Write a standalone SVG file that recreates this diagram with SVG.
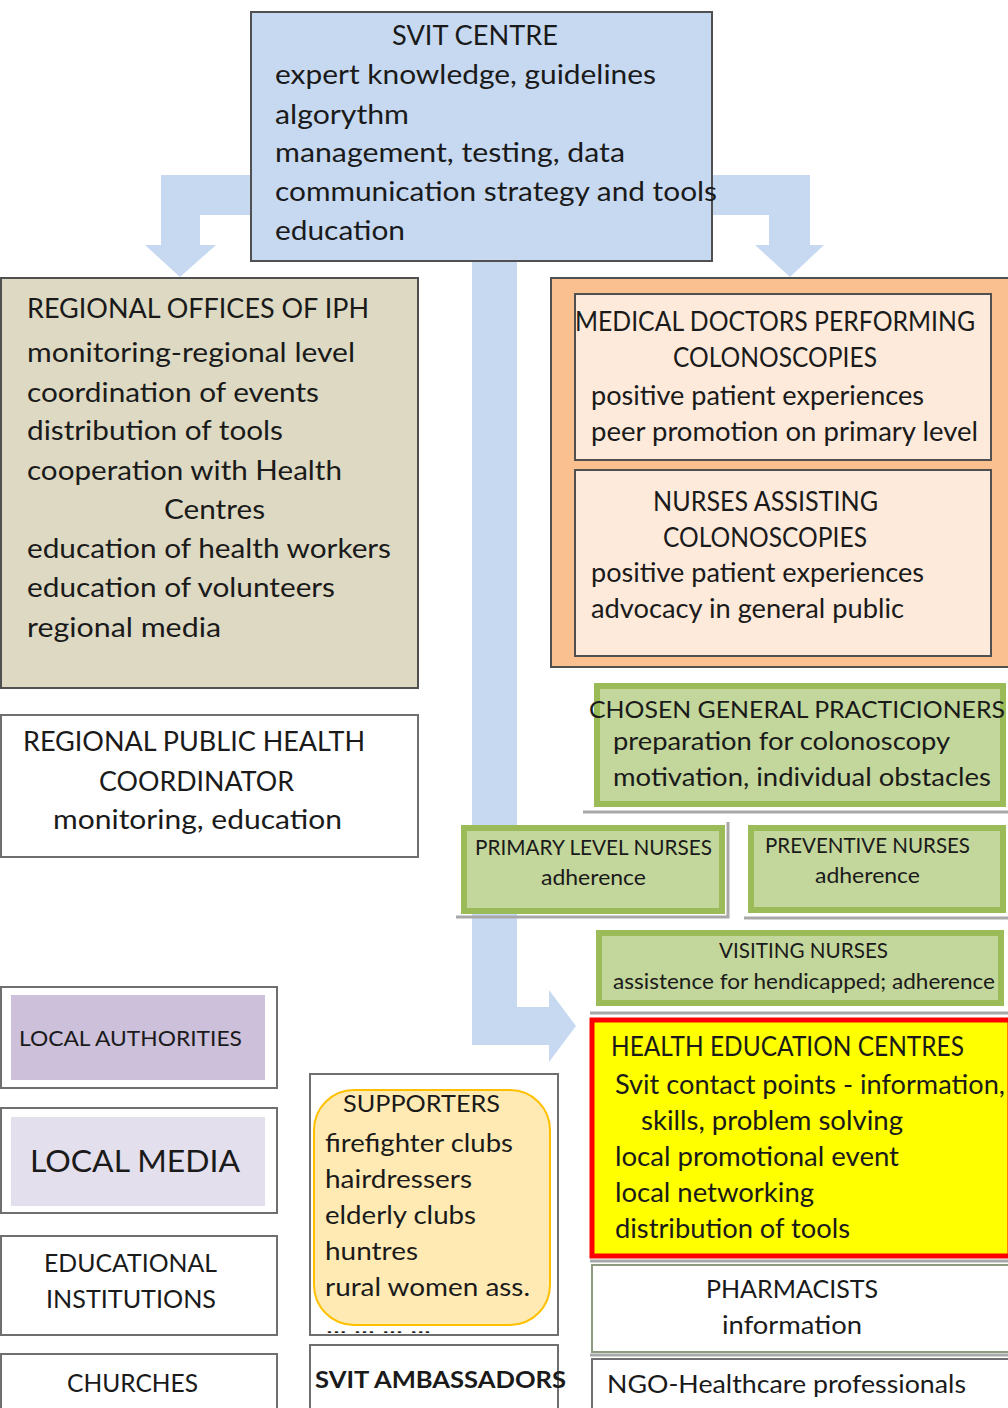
<svg xmlns="http://www.w3.org/2000/svg" width="1008" height="1408" viewBox="0 0 1008 1408">
  <style>
    text { font-family: Lato, "Open Sans", "Liberation Sans", sans-serif; fill: #1a1a1a; }
    .f27 { font-size: 27px; }
    .f26 { font-size: 26px; }
    .f25 { font-size: 25px; }
    .f24 { font-size: 24px; }
    .f21 { font-size: 21px; }
    .frame { fill: #ffffff; stroke: #6f6f6f; stroke-width: 2; }
    .dark { stroke: #505050; stroke-width: 2; }
    .green { fill: #c3d69b; stroke: #9bbb59; stroke-width: 6; }
    .shadow { stroke: #a8a8a8; stroke-width: 3; fill: none; }
    .flow { fill: #c6d9f1; }
  </style>

  <rect width="1008" height="1408" fill="#ffffff"/>

  <!-- broad block arrows from the centre -->
  <g id="connectors">
    <!-- left branch -->
    <path class="flow" d="M268,175 H161 V245 H145 L180,277 L216,245 H200 V215 H268 Z"/>
    <!-- right branch -->
    <path class="flow" d="M703,175 H810 V245 H824 L790,277 L755,245 H769 V215 H703 Z"/>
    <!-- central trunk down to the health education centres -->
    <path class="flow" d="M472,261 H517 V1007 H549 V990 L576,1026 L549,1062 V1045 H472 Z"/>
  </g>

  <g id="svit-centre">
    <rect x="251" y="12" width="461" height="249" fill="#c6d9f1" class="dark"/>
    <text class="f27" lengthAdjust="spacingAndGlyphs" x="392" y="45" textLength="166">SVIT CENTRE</text>
    <text class="f27" lengthAdjust="spacingAndGlyphs" x="275" y="84" textLength="381">expert knowledge, guidelines</text>
    <text class="f27" lengthAdjust="spacingAndGlyphs" x="275" y="124" textLength="134">algorythm</text>
    <text class="f27" lengthAdjust="spacingAndGlyphs" x="275" y="162" textLength="350">management, testing, data</text>
    <text class="f27" lengthAdjust="spacingAndGlyphs" x="275" y="201" textLength="442">communication strategy and tools</text>
    <text class="f27" lengthAdjust="spacingAndGlyphs" x="275" y="240" textLength="130">education</text>
  </g>

  <g id="regional-offices">
    <rect x="1" y="278" width="417" height="410" fill="#ddd9c3" class="dark"/>
    <text class="f26" lengthAdjust="spacingAndGlyphs" x="27" y="318" textLength="342">REGIONAL OFFICES OF IPH</text>
    <text class="f26" lengthAdjust="spacingAndGlyphs" x="27" y="362" textLength="328">monitoring-regional level</text>
    <text class="f26" lengthAdjust="spacingAndGlyphs" x="27" y="402" textLength="292">coordination of events</text>
    <text class="f26" lengthAdjust="spacingAndGlyphs" x="27" y="440" textLength="256">distribution of tools</text>
    <text class="f26" lengthAdjust="spacingAndGlyphs" x="27" y="480" textLength="315">cooperation with Health</text>
    <text class="f26" lengthAdjust="spacingAndGlyphs" x="164" y="519" textLength="101">Centres</text>
    <text class="f26" lengthAdjust="spacingAndGlyphs" x="27" y="558" textLength="364">education of health workers</text>
    <text class="f26" lengthAdjust="spacingAndGlyphs" x="27" y="597" textLength="308">education of volunteers</text>
    <text class="f26" lengthAdjust="spacingAndGlyphs" x="27" y="637" textLength="194">regional media</text>
  </g>

  <g id="regional-coordinator">
    <rect x="1" y="715" width="417" height="142" class="frame"/>
    <text class="f27" lengthAdjust="spacingAndGlyphs" x="23" y="751" textLength="342">REGIONAL PUBLIC HEALTH</text>
    <text class="f27" lengthAdjust="spacingAndGlyphs" x="99" y="791" textLength="195">COORDINATOR</text>
    <text class="f27" lengthAdjust="spacingAndGlyphs" x="53" y="829" textLength="289">monitoring, education</text>
  </g>

  <g id="colonoscopy-team">
    <rect x="551" y="278" width="460" height="389" fill="#fac090" class="dark"/>
  </g>

  <g id="medical-doctors">
    <rect x="575" y="294" width="416" height="166" fill="#fdeada" class="dark"/>
    <text class="f26" lengthAdjust="spacingAndGlyphs" x="575" y="331" textLength="400">MEDICAL DOCTORS PERFORMING</text>
    <text class="f26" lengthAdjust="spacingAndGlyphs" x="673" y="367" textLength="204">COLONOSCOPIES</text>
    <text class="f26" lengthAdjust="spacingAndGlyphs" x="591" y="405" textLength="333">positive patient experiences</text>
    <text class="f26" lengthAdjust="spacingAndGlyphs" x="591" y="441" textLength="387">peer promotion on primary level</text>
  </g>

  <g id="nurses-assisting">
    <rect x="575" y="470" width="416" height="186" fill="#fdeada" class="dark"/>
    <text class="f26" lengthAdjust="spacingAndGlyphs" x="653" y="511" textLength="225">NURSES ASSISTING</text>
    <text class="f26" lengthAdjust="spacingAndGlyphs" x="663" y="547" textLength="204">COLONOSCOPIES</text>
    <text class="f26" lengthAdjust="spacingAndGlyphs" x="591" y="582" textLength="333">positive patient experiences</text>
    <text class="f26" lengthAdjust="spacingAndGlyphs" x="591" y="618" textLength="313">advocacy in general public</text>
  </g>

  <g id="general-practitioners">
    <line class="shadow" x1="583" y1="812" x2="1008" y2="812"/>
    <rect x="597" y="686" width="406" height="118" class="green"/>
    <text class="f24" lengthAdjust="spacingAndGlyphs" x="589" y="718" textLength="416">CHOSEN GENERAL PRACTICIONERS</text>
    <text class="f25" lengthAdjust="spacingAndGlyphs" x="613" y="750" textLength="337">preparation for colonoscopy</text>
    <text class="f25" lengthAdjust="spacingAndGlyphs" x="613" y="786" textLength="378">motivation, individual obstacles</text>
  </g>

  <g id="primary-nurses">
    <polyline class="shadow" points="456,917 728,917 728,822"/>
    <rect x="464" y="828" width="258" height="83" class="green"/>
    <text class="f21" lengthAdjust="spacingAndGlyphs" x="475" y="855" textLength="237">PRIMARY LEVEL NURSES</text>
    <text class="f21" lengthAdjust="spacingAndGlyphs" x="541" y="885" textLength="105">adherence</text>
  </g>

  <g id="preventive-nurses">
    <line class="shadow" x1="744" y1="918" x2="1008" y2="918"/>
    <rect x="751" y="828" width="252" height="82" class="green"/>
    <text class="f21" lengthAdjust="spacingAndGlyphs" x="765" y="853" textLength="205">PREVENTIVE NURSES</text>
    <text class="f21" lengthAdjust="spacingAndGlyphs" x="815" y="883" textLength="105">adherence</text>
  </g>

  <g id="visiting-nurses">
    <rect x="599" y="933" width="402" height="70" class="green"/>
    <text class="f21" lengthAdjust="spacingAndGlyphs" x="719" y="958" textLength="169">VISITING NURSES</text>
    <text class="f21" lengthAdjust="spacingAndGlyphs" x="613" y="989" textLength="382">assistence for hendicapped; adherence</text>
  </g>

  <g id="health-education-centres">
    <line class="shadow" x1="590" y1="1013" x2="1008" y2="1013"/>
    <rect x="592" y="1020" width="418" height="236" fill="#ffff00" stroke="#ff0000" stroke-width="5"/>
    <text class="f26" lengthAdjust="spacingAndGlyphs" x="611" y="1056" textLength="353">HEALTH EDUCATION CENTRES</text>
    <text class="f26" lengthAdjust="spacingAndGlyphs" x="615" y="1094" textLength="390">Svit contact points - information,</text>
    <text class="f26" lengthAdjust="spacingAndGlyphs" x="641" y="1130" textLength="262">skills, problem solving</text>
    <text class="f26" lengthAdjust="spacingAndGlyphs" x="615" y="1166" textLength="284">local promotional event</text>
    <text class="f26" lengthAdjust="spacingAndGlyphs" x="615" y="1202" textLength="199">local networking</text>
    <text class="f26" lengthAdjust="spacingAndGlyphs" x="615" y="1238" textLength="235">distribution of tools</text>
  </g>

  <g id="pharmacists">
    <line class="shadow" x1="590" y1="1261" x2="1008" y2="1261"/>
    <rect x="592" y="1265" width="418" height="87" fill="#ffffff" stroke="#8e9a80" stroke-width="2"/>
    <text class="f25" lengthAdjust="spacingAndGlyphs" x="706" y="1298" textLength="172">PHARMACISTS</text>
    <text class="f25" lengthAdjust="spacingAndGlyphs" x="722" y="1334" textLength="140">information</text>
  </g>

  <g id="ngo-professionals">
    <line class="shadow" x1="590" y1="1355" x2="1008" y2="1355"/>
    <rect x="592" y="1359" width="418" height="60" class="frame"/>
    <text class="f25" lengthAdjust="spacingAndGlyphs" x="607" y="1393" textLength="359">NGO-Healthcare professionals</text>
  </g>

  <g id="local-authorities">
    <rect x="1" y="987" width="276" height="101" class="frame"/>
    <rect x="11" y="995" width="254" height="85" fill="#ccc0da"/>
    <text style="font-size:22px" lengthAdjust="spacingAndGlyphs" x="19" y="1046" textLength="223">LOCAL AUTHORITIES</text>
  </g>

  <g id="local-media">
    <rect x="1" y="1108" width="276" height="105" class="frame"/>
    <rect x="11" y="1117" width="254" height="89" fill="#e4dfec"/>
    <text style="font-size:31px" lengthAdjust="spacingAndGlyphs" x="30" y="1172" textLength="210">LOCAL MEDIA</text>
  </g>

  <g id="educational-institutions">
    <rect x="1" y="1236" width="276" height="99" class="frame"/>
    <text class="f25" lengthAdjust="spacingAndGlyphs" x="44" y="1272" textLength="173">EDUCATIONAL</text>
    <text class="f25" lengthAdjust="spacingAndGlyphs" x="46" y="1308" textLength="170">INSTITUTIONS</text>
  </g>

  <g id="churches">
    <rect x="1" y="1354" width="276" height="70" class="frame"/>
    <text class="f25" lengthAdjust="spacingAndGlyphs" x="67" y="1392" textLength="131">CHURCHES</text>
  </g>

  <g id="supporters">
    <rect x="310" y="1074" width="248" height="261" class="frame"/>
    <rect x="314" y="1090" width="236" height="235" rx="40" ry="40" fill="#ffeab3" stroke="#ffc000" stroke-width="2"/>
    <text class="f24" lengthAdjust="spacingAndGlyphs" x="343" y="1112" textLength="157">SUPPORTERS</text>
    <text class="f25" lengthAdjust="spacingAndGlyphs" x="325" y="1152" textLength="188">firefighter clubs</text>
    <text class="f25" lengthAdjust="spacingAndGlyphs" x="325" y="1188" textLength="147">hairdressers</text>
    <text class="f25" lengthAdjust="spacingAndGlyphs" x="325" y="1224" textLength="151">elderly clubs</text>
    <text class="f25" lengthAdjust="spacingAndGlyphs" x="325" y="1260" textLength="93">huntres</text>
    <text class="f25" lengthAdjust="spacingAndGlyphs" x="325" y="1296" textLength="205">rural women ass.</text>
    <text style="font-size:14px" lengthAdjust="spacingAndGlyphs" x="326" y="1333" textLength="105">... ... ... ...</text>
  </g>

  <g id="svit-ambassadors">
    <rect x="310" y="1345" width="248" height="80" class="frame"/>
    <text style="font-size:23px;font-weight:bold" lengthAdjust="spacingAndGlyphs" x="315" y="1388" textLength="251">SVIT AMBASSADORS</text>
  </g>
</svg>
